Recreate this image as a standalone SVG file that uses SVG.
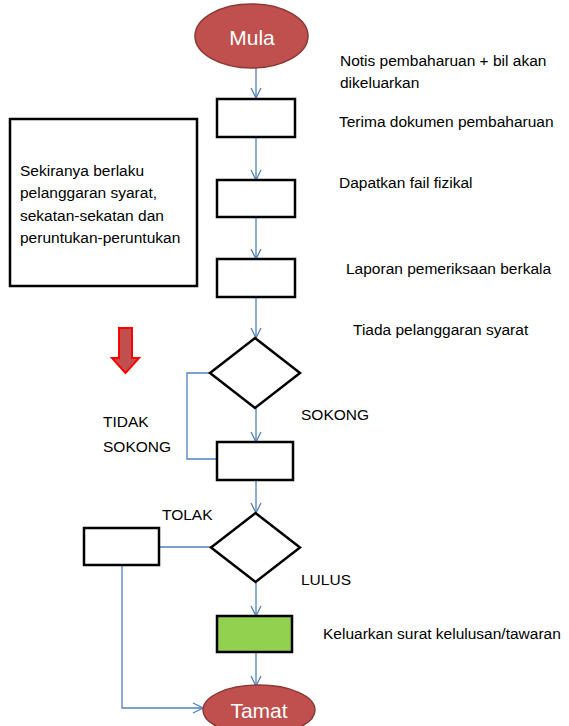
<svg xmlns="http://www.w3.org/2000/svg" width="569" height="726" viewBox="0 0 569 726">
<style>
.box{fill:#fff;stroke:#000;stroke-width:2.5}
.term{fill:#C0504D;stroke:#8C3836;stroke-width:1.5}
.conn{fill:none;stroke:#4F81BD;stroke-width:1.3}
.t{font-family:"Liberation Sans",Arial,sans-serif;font-size:15.5px;fill:#000}
.b{font-family:"Liberation Sans",Arial,sans-serif;font-size:15.5px;fill:#000}
.tw{font-family:"Liberation Sans",Arial,sans-serif;font-size:21px;fill:#fff;text-anchor:middle}
</style>
<defs>
<marker id="arr" viewBox="0 0 12 12" refX="11" refY="6" markerWidth="12" markerHeight="12" markerUnits="userSpaceOnUse" orient="auto">
<path d="M1,1 L11,6 L1,11" fill="none" stroke="#4F81BD" stroke-width="1.3"/>
</marker>
</defs>
<g id="connectors">
<line class="conn" x1="256" y1="68" x2="256" y2="98" marker-end="url(#arr)"/>
<line class="conn" x1="256" y1="137" x2="256" y2="180" marker-end="url(#arr)"/>
<line class="conn" x1="256" y1="217" x2="256" y2="259" marker-end="url(#arr)"/>
<line class="conn" x1="256" y1="297" x2="256" y2="338" marker-end="url(#arr)"/>
<line class="conn" x1="256" y1="408" x2="256" y2="442" marker-end="url(#arr)"/>
<line class="conn" x1="256" y1="480" x2="256" y2="513" marker-end="url(#arr)"/>
<line class="conn" x1="256" y1="582" x2="256" y2="616" marker-end="url(#arr)"/>
<line class="conn" x1="256" y1="652" x2="256" y2="686" marker-end="url(#arr)"/>
<polyline class="conn" points="210,373 187,373 187,459 217,459"/>
<line class="conn" x1="211" y1="547" x2="159" y2="547"/>
<polyline class="conn" points="122,565 122,708 203,708" marker-end="url(#arr)"/>
</g>
<g id="mula"><ellipse class="term" cx="251.5" cy="36" rx="56.5" ry="32"/><text class="tw" x="252" y="45">Mula</text></g>
<g id="box1"><rect class="box" x="217" y="99" width="78" height="38"/></g>
<g id="box2"><rect class="box" x="217" y="180" width="78" height="37"/></g>
<g id="box3"><rect class="box" x="217" y="259" width="78" height="38"/></g>
<g id="decision1"><polygon class="box" points="255,338 300,373 255,408 210,373"/></g>
<g id="box4"><rect class="box" x="217" y="442" width="76" height="38"/></g>
<g id="decision2"><polygon class="box" points="255.5,513 300,547.5 255.5,582 211,547.5"/></g>
<g id="tolakbox"><rect class="box" x="84" y="528" width="75" height="37"/></g>
<g id="greenbox"><rect class="box" x="217" y="616" width="75" height="36" style="fill:#92D050"/></g>
<g id="tamat"><ellipse class="term" cx="259" cy="710" rx="56" ry="25"/><text class="tw" x="259" y="718">Tamat</text></g>
<g id="notebox"><rect class="box" x="10" y="119" width="187" height="167"/>
<text class="t" x="20" y="176">Sekiranya berlaku</text>
<text class="t" x="20" y="198">pelanggaran syarat,</text>
<text class="t" x="20" y="221">sekatan-sekatan dan</text>
<text class="t" x="20" y="243">peruntukan-peruntukan</text></g>
<g id="redarrow"><path d="M119,328 L132,328 L132,358 L139,358 L125.5,373 L112,358 L119,358 Z" fill="#C0504D" stroke="#FF0000" stroke-width="2"/></g>
<g id="labels">
<text class="t" x="340" y="66">Notis pembaharuan + bil akan</text>
<text class="t" x="340" y="88">dikeluarkan</text>
<text class="t" x="339" y="127">Terima dokumen pembaharuan</text>
<text class="t" x="339" y="188">Dapatkan fail fizikal</text>
<text class="t" x="346" y="274">Laporan pemeriksaan berkala</text>
<text class="t" x="353" y="335">Tiada pelanggaran syarat</text>
<text class="t" x="323" y="639">Keluarkan surat kelulusan/tawaran</text>
<text class="b" x="103" y="427">TIDAK</text>
<text class="b" x="103" y="452">SOKONG</text>
<text class="b" x="301" y="420">SOKONG</text>
<text class="b" x="162" y="520">TOLAK</text>
<text class="b" x="301" y="585">LULUS</text>
</g>
</svg>
